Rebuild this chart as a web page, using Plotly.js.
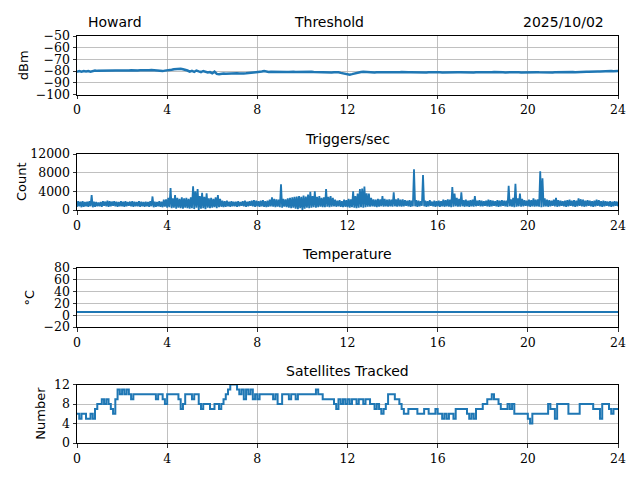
<!DOCTYPE html>
<html>
<head>
<meta charset="utf-8">
<script src="https://cdn.plot.ly/plotly-3.0.1.min.js"></script>
<style>html,body{margin:0;padding:0;background:#fff;}#chart{width:640px;height:480px;}</style>
</head>
<body>
<div id="chart"></div>
<script>
// ---- Data (sampled every 0.1 h from 0 to 24 h) ----
const thresholdDbm = [
-80.5,-80,-80.5,-80,-80.3,-80,-80.5,-79.8,-79.6,-79.8,
-79.7,-79.5,-79.6,-79.4,-79.6,-79.5,-79.6,-79.4,-79.5,-79.6,
-79.5,-79.4,-79.6,-79.5,-79.3,-79.5,-79.4,-79.5,-79.3,-79.4,
-79.2,-79.0,-79.3,-79.1,-79.4,-79.6,-79.5,-79.8,-80.0,-79.6,
-79.5,-79.2,-78.8,-78.4,-78.2,-78.3,-78.0,-78.4,-78.8,-79.5,
-80.5,-79.8,-80.6,-79.5,-80.2,-80.8,-79.9,-80.5,-81.2,-80.8,
-81.8,-80.5,-82.4,-82.6,-82.2,-82.0,-82.3,-82.1,-82.0,-82.2,
-82.0,-81.9,-82.1,-81.8,-82.0,-81.9,-81.7,-81.8,-81.6,-81.5,
-81.3,-81.2,-80.4,-80.0,-80.6,-80.8,-80.5,-80.6,-80.8,-80.6,
-80.5,-80.7,-80.6,-80.8,-80.7,-80.5,-80.6,-80.8,-80.7,-80.6,
-80.5,-80.6,-80.8,-80.7,-80.6,-80.8,-80.9,-80.8,-81.0,-80.9,
-81.0,-80.8,-80.9,-81.2,-81.0,-80.8,-81.0,-81.5,-82.0,-82.5,
-83.0,-83.0,-82.6,-82.0,-81.5,-81.0,-80.8,-80.6,-80.8,-81.0,
-81.0,-80.8,-81.1,-80.9,-81.0,-80.8,-81.2,-81.0,-80.9,-81.1,
-81.0,-80.9,-81.1,-81.0,-80.8,-81.0,-81.2,-81.0,-80.9,-81.0,
-81.1,-81.0,-80.9,-81.1,-81.0,-81.2,-81.0,-80.9,-81.1,-81.0,
-81.0,-80.9,-81.1,-81.0,-81.2,-81.0,-80.9,-81.0,-81.1,-81.0,
-81.0,-81.1,-80.9,-81.0,-81.2,-81.0,-81.1,-80.9,-81.0,-81.1,
-81.0,-80.9,-81.0,-81.1,-81.0,-80.8,-81.0,-81.1,-80.9,-81.0,
-81.1,-81.0,-80.9,-81.0,-81.2,-81.0,-80.9,-81.1,-81.0,-81.0,
-80.9,-81.0,-81.1,-81.0,-80.9,-81.0,-81.1,-81.0,-80.9,-81.0,
-81.0,-81.1,-81.0,-80.9,-81.2,-81.1,-81.0,-80.9,-81.0,-80.9,
-80.8,-80.9,-80.7,-80.8,-80.6,-80.7,-80.5,-80.6,-80.4,-80.5,
-80.4,-80.3,-80.4,-80.2,-80.3,-80.1,-80.2,-80.0,-80.1,-80.0,
-80.0
];

// Triggers/sec: per 0.1 h interval, the highest and lowest reading
const triggersHigh = [
1900,1800,1900,1700,1800,1900,3200,1800,1700,1600,
1700,1900,1800,2000,1900,1800,1900,1800,1700,1900,
1800,1900,1700,1800,1900,1800,1700,1900,1800,1700,
1800,1700,1900,2900,1800,1700,1900,1800,2200,2300,
2600,4700,2500,3200,2600,2400,2700,2500,2600,2400,
2700,5100,4000,4500,3000,3700,2800,3600,2500,2600,
2400,2700,3200,2400,2000,1900,2000,1800,1900,1800,
1800,1900,1700,1900,2000,1800,1900,2000,2100,2000,
1900,2000,2100,1900,2000,2200,2700,2400,2300,2200,
5500,2400,2300,2500,2600,2700,2800,2900,3000,2800,
3100,2900,3300,3900,3000,4000,2800,3000,2600,2700,
4500,2800,3000,2600,2200,2000,2100,1900,2200,2100,
2400,2300,4000,3000,3500,4500,4600,5000,3600,3500,
2600,2300,2200,2400,2300,3000,2400,2200,2300,2200,
3800,2300,2500,2200,2300,2100,2000,2100,2000,8700,
2100,2000,1900,7500,2000,1900,2100,1800,2000,1900,
2000,1900,2200,2100,2300,2200,4900,3500,2600,2400,
3800,2100,2200,2000,2100,2200,3000,2000,2100,2000,
1900,2000,2200,2100,2000,1900,2100,2000,2100,2000,
2000,5200,2300,2600,5600,2500,3500,2400,2100,2000,
2200,2100,2500,2200,2300,8300,6800,2500,2200,2100,
2000,2200,2600,2100,2000,1900,2000,2100,2200,2000,
2100,2000,2500,2300,2200,2000,2100,2000,1900,2000,
2200,2100,1900,2000,1900,1800,1900,1800,1900,1800,
1800
];
const triggersLow = [
700,800,600,700,800,700,800,600,700,800,
800,700,900,800,700,800,900,800,700,800,
800,700,800,900,800,700,800,800,700,800,
700,800,700,800,600,700,800,700,600,700,
500,600,400,500,300,500,400,300,500,400,
300,400,200,500,0,300,400,200,500,400,
500,600,400,600,700,600,700,800,700,800,
800,700,800,900,800,700,800,900,800,700,
800,700,800,700,600,700,800,700,600,700,
600,500,700,600,500,400,500,300,200,400,
0,300,500,400,500,600,500,600,700,600,
600,700,600,700,800,700,800,700,600,700,
600,500,600,500,400,500,600,500,600,700,
700,800,700,600,700,800,700,800,700,800,
700,800,700,800,700,800,900,800,700,800,
800,700,800,900,800,700,800,900,800,700,
800,700,800,700,800,700,600,700,800,700,
700,800,700,800,700,800,700,800,900,800,
800,900,800,700,800,900,800,700,800,900,
800,700,800,700,600,700,800,700,800,900,
800,700,800,700,800,700,600,700,800,700,
800,900,800,700,800,900,800,700,800,900,
800,700,800,900,800,700,800,900,800,700,
800,900,800,700,800,900,800,700,800,900,
800
];

const satellitesTracked = [
6,5,6,6,5,5,6,5,7,8,
8,9,8,9,8,7,6,9,11,10,
11,10,11,10,9,10,10,10,10,10,
10,10,10,10,10,9,10,10,9,8,
10,10,10,10,10,9,7,8,10,10,
10,9,10,10,8,7,8,8,8,7,
7,8,8,7,8,9,10,11,12,12,
12,11,10,11,9,11,10,11,9,10,
9,10,10,10,10,10,10,9,10,8,
8,10,10,10,9,10,10,9,10,10,
10,10,10,10,10,10,11,10,10,9,
9,9,9,9,8,7,9,8,9,8,
9,8,9,9,8,9,9,8,9,9,
8,8,7,8,7,6,7,8,10,10,
10,9,9,8,7,6,6,7,7,7,
7,6,6,6,7,7,6,6,6,7,
6,6,5,6,5,6,6,5,7,7,
7,7,7,6,5,6,5,7,7,7,
8,8,9,9,10,9,9,8,7,7,
7,8,7,8,6,6,6,6,6,6,
5,4,6,6,6,6,6,6,6,8,
7,7,5,8,8,8,8,8,6,6,
6,6,6,8,8,8,8,8,8,7,
7,7,5,8,8,8,7,6,7,7,
7
];

// Temperature sampled every 0.5 h
const temperatureC = [
5.5,5.5,5.5,5.5,5.5,5.5,5.5,5.5,5.5,5.5,
5.5,5.5,5.5,5.5,5.5,5.5,5.5,5.5,5.5,5.5,
5.5,5.5,5.5,5.5,4.5,4.5,4.5,4.5,4.5,4.5,
4.5,4.5,4.5,4.5,5.0,5.5,5.5,5.5,5.5,5.5,
5.5,5.5,5.5,5.5,5.5,5.5,5.5,5.5,5.5
];

const xTickVals = [0,4,8,12,16,20,24];
const panelTitles = ["Threshold","Triggers/sec","Temperature","Satellites Tracked"];
const yLabels = ["dBm","Count","°C","Number"];
const siteName = "Howard";
const dateText = "2025/10/02";

// sample times
const t10 = thresholdDbm.map((_, i) => i / 10);
const t2 = temperatureC.map((_, i) => i / 2);
// triggers: low and high reading of each interval, interleaved in time order
const trigX = [], trigY = [];
triggersLow.forEach((lo, i) => {
  trigX.push(i / 10); trigY.push(lo);
  if (i < triggersLow.length - 1) { trigX.push(i / 10 + 0.05); trigY.push(triggersHigh[i]); }
});

const blue = "#1f77b4";
const W = 640, H = 480;
const px = v => v / W;
const py = v => 1 - v / H;

const xDom = [px(77), px(618)];
const panels = [
  {top: 36, bot: 94.5, range: [-100, -50], tickvals: [-100,-90,-80,-70,-60,-50]},
  {top: 154, bot: 210, range: [0, 12000], tickvals: [0,4000,8000,12000]},
  {top: 268, bot: 327, range: [-20, 80], tickvals: [-20,0,20,40,60,80]},
  {top: 384.5, bot: 443, range: [0, 12], tickvals: [0,4,8,12]}
];

const tickFont = {family: "'DejaVu Serif', 'Liberation Serif', serif", size: 12.5, color: "#000"};
const titleFont = {family: "'DejaVu Sans', sans-serif", size: 14, color: "#000"};

const traces = [
  {x: t10, y: thresholdDbm, xaxis: "x", yaxis: "y", mode: "lines", line: {color: blue, width: 2.5}, hoverinfo: "skip"},
  {x: trigX, y: trigY, xaxis: "x2", yaxis: "y2", mode: "lines", line: {color: blue, width: 1.8}, hoverinfo: "skip"},
  {x: t2, y: temperatureC, xaxis: "x3", yaxis: "y3", mode: "lines", line: {color: blue, width: 2}, hoverinfo: "skip"},
  {x: t10, y: satellitesTracked, xaxis: "x4", yaxis: "y4", mode: "lines", line: {color: blue, width: 2, shape: "hv"}, hoverinfo: "skip"}
];

const layout = {
  width: W, height: H,
  margin: {l: 0, r: 0, t: 0, b: 0},
  paper_bgcolor: "#fff", plot_bgcolor: "#fff",
  showlegend: false,
  annotations: []
};

panels.forEach((p, i) => {
  const s = i === 0 ? "" : String(i + 1);
  layout["xaxis" + s] = {
    domain: xDom, range: [0, 24], anchor: "y" + s,
    tickvals: xTickVals, ticktext: xTickVals.map(String),
    showgrid: true, gridcolor: "#b0b0b0", gridwidth: 0.8,
    showline: true, linecolor: "#000", linewidth: 1, mirror: true,
    ticks: "outside", ticklen: 3.5, tickwidth: 0.8, tickcolor: "#000",
    tickfont: tickFont, zeroline: false, fixedrange: true
  };
  layout["yaxis" + s] = {
    domain: [py(p.bot), py(p.top)], range: p.range, anchor: "x" + s,
    tickvals: p.tickvals, ticktext: p.tickvals.map(v => v < 0 ? "\u2212" + Math.abs(v) : String(v)),
    showgrid: true, gridcolor: "#b0b0b0", gridwidth: 0.8,
    showline: true, linecolor: "#000", linewidth: 1, mirror: true,
    ticks: "outside", ticklen: 3.5, tickwidth: 0.8, tickcolor: "#000",
    tickfont: tickFont, zeroline: false, fixedrange: true
  };
});

const titleY = [22, 139, 254, 371];
const titleX = [329, 347, 347, 347];
panelTitles.forEach((t, i) => {
  layout.annotations.push({text: t, xref: "paper", yref: "paper", x: px(titleX[i]), y: py(titleY[i]),
    xanchor: "center", yanchor: "middle", showarrow: false, font: titleFont});
});
layout.annotations.push({text: siteName, xref: "paper", yref: "paper", x: px(86), y: py(22),
  xanchor: "left", yanchor: "middle", showarrow: false, font: titleFont});
layout.annotations.push({text: dateText, xref: "paper", yref: "paper", x: px(606), y: py(22),
  xanchor: "right", yanchor: "middle", showarrow: false, font: titleFont});

const yLabX = [23, 21, 29, 41];
yLabels.forEach((t, i) => {
  const p = panels[i];
  layout.annotations.push({text: t, xref: "paper", yref: "paper", x: px(yLabX[i]), y: py((p.top + p.bot) / 2),
    xanchor: "center", yanchor: "middle", textangle: -90, showarrow: false,
    font: {family: "'DejaVu Sans', sans-serif", size: 13, color: "#000"}});
});

Plotly.newPlot("chart", traces, layout, {staticPlot: true, displayModeBar: false});
</script>
</body>
</html>
